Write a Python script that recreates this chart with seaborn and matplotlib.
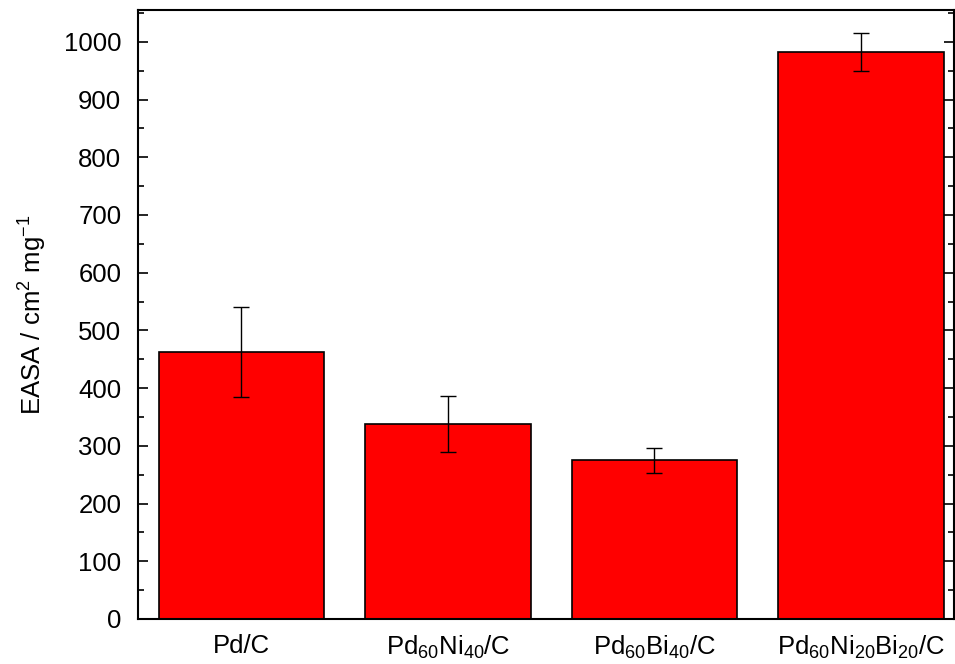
import numpy as np
import pandas as pd
import seaborn as sns
import matplotlib
matplotlib.use("Agg")
import matplotlib.pyplot as plt
from matplotlib.ticker import MultipleLocator

# data
catalysts = ["Pd/C", "Pd$_{60}$Ni$_{40}$/C", "Pd$_{60}$Bi$_{40}$/C", "Pd$_{60}$Ni$_{20}$Bi$_{20}$/C"]
easa = [462, 338, 275, 983]
easa_err = [78, 49, 22, 33]

df = pd.DataFrame({"catalyst": catalysts, "easa": easa, "err": easa_err})

sns.set_style("ticks")
plt.rcParams["font.family"] = ["Liberation Sans", "DejaVu Sans"]
plt.rcParams["mathtext.fontset"] = "custom"
plt.rcParams["mathtext.rm"] = "Liberation Sans"
plt.rcParams["mathtext.it"] = "Liberation Sans:italic"
plt.rcParams["mathtext.bf"] = "Liberation Sans:bold"
plt.rcParams["text.color"] = "black"
plt.rcParams["axes.labelcolor"] = "black"
plt.rcParams["xtick.color"] = "black"
plt.rcParams["ytick.color"] = "black"
plt.rcParams["axes.edgecolor"] = "black"

fig = plt.figure(figsize=(9.55, 6.64), dpi=100)
ax = fig.add_axes([0.1445, 0.0678, 0.8545, 0.917])

sns.barplot(data=df, x="catalyst", y="easa", color="#ff0000", saturation=1,
            edgecolor="black", linewidth=1.2, width=0.8, errorbar=None, ax=ax)
ax.errorbar(np.arange(len(df)), df["easa"], yerr=df["err"], fmt="none",
            ecolor="black", elinewidth=1, capsize=6, capthick=1)

ax.set_xlim(-0.5, 3.45)
ax.set_ylim(0, 1055)
ax.yaxis.set_major_locator(MultipleLocator(100))
ax.yaxis.set_minor_locator(MultipleLocator(50))
ax.tick_params(axis="y", which="both", direction="in", right=True, labelsize=18.5, width=1.2, pad=12)
ax.tick_params(axis="y", which="major", length=7)
ax.tick_params(axis="y", which="minor", length=4)
ax.tick_params(axis="x", length=0, labelsize=18.5, pad=11)
for s in ax.spines.values():
    s.set_linewidth(1.5)
    s.set_visible(True)

ax.set_xlabel("")
ax.set_ylabel("EASA / cm$^{2}$ mg$^{-1}$", fontsize=18.5, labelpad=11)

fig.savefig("out.png", dpi=100)
